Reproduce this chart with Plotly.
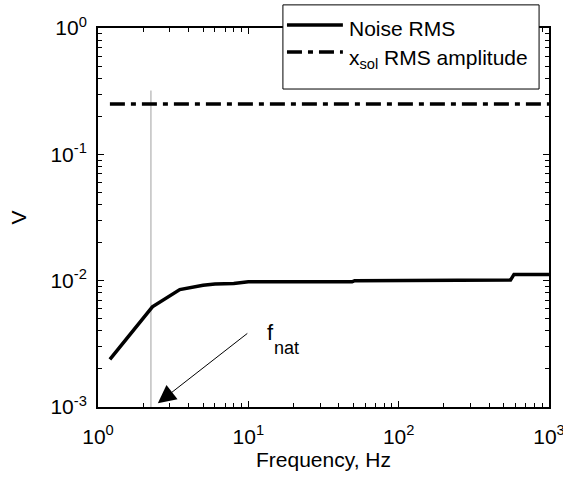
import numpy as np
import plotly.graph_objects as go

# Data
freq_noise = [1.2, 2.3, 3.5, 5.0, 6.0, 8.0, 10.0, 49.0, 51.0, 555.0, 585.0, 1000.0]
noise_rms = [0.00238, 0.0062, 0.0085, 0.0092, 0.0094, 0.0095, 0.0098, 0.0098, 0.0100, 0.0101, 0.0112, 0.0112]
freq_sol = [1.2, 1000.0]
xsol_rms = [0.25, 0.25]
f_nat = 2.25
fnat_line_v = [0.001, 0.32]

x_major = [1, 10, 100, 1000]
x_major_text = ["10<sup>0</sup>", "10<sup>1</sup>", "10<sup>2</sup>", "10<sup>3</sup>"]
y_major = [0.001, 0.01, 0.1, 1]
y_major_text = ["10<sup>-3</sup>", "10<sup>-2</sup>", "10<sup>-1</sup>", "10<sup>0</sup>"]
legend_labels = ["Noise RMS", "x<sub>sol</sub> RMS amplitude"]

def minors(lo, hi):
    out = []
    for e in range(lo, hi):
        for m in range(2, 10):
            out.append(m * 10 ** e)
    return out

FONT = "Liberation Sans, Arial, sans-serif"
DASHDOT = "15px,6px,5px,6px"

fig = go.Figure()
fig.add_trace(go.Scatter(x=[f_nat, f_nat], y=fnat_line_v, mode="lines",
                         line=dict(color="#a0a0a0", width=1), showlegend=False,
                         hoverinfo="skip"))
fig.add_trace(go.Scatter(x=freq_noise, y=noise_rms, mode="lines", name=legend_labels[0],
                         line=dict(color="black", width=3.5), showlegend=False))
fig.add_trace(go.Scatter(x=freq_sol, y=xsol_rms, mode="lines", name=legend_labels[1],
                         line=dict(color="black", width=3.5, dash=DASHDOT), showlegend=False))

axis_common = dict(type="log", showgrid=False, zeroline=False, showline=True,
                   linecolor="black", linewidth=2, mirror="ticks", ticks="inside",
                   ticklen=6, tickwidth=1, tickcolor="black", ticklabeloverflow="allow",
                   automargin=False,
                   tickfont=dict(family=FONT, size=21, color="black"))

fig.update_xaxes(range=[0, 3.0002], tickmode="array", tickvals=x_major, ticktext=x_major_text,
                 minor=dict(tickmode="array", tickvals=minors(0, 3), ticklen=4,
                            tickwidth=1, tickcolor="black", ticks="inside"),
                 ticklabelstandoff=10,
                 title=dict(text="Frequency, Hz", font=dict(family=FONT, size=21, color="black"),
                            standoff=4),
                 **axis_common)
fig.update_yaxes(range=[-3.0002, 0.0002], tickmode="array", tickvals=y_major, ticktext=y_major_text,
                 minor=dict(tickmode="array", tickvals=minors(-3, 0), ticklen=4,
                            tickwidth=1, tickcolor="black", ticks="inside"),
                 ticklabelstandoff=5,
                 title=dict(text="V", font=dict(family=FONT, size=21, color="black"),
                            standoff=18),
                 **axis_common)

# f_nat arrow and label
fig.add_annotation(x=np.log10(2.5), y=np.log10(0.00107), xref="x", yref="y",
                   ax=91, ay=-71, axref="pixel", ayref="pixel",
                   showarrow=True, arrowhead=2, arrowsize=3.6, arrowwidth=1,
                   arrowcolor="black", text="")
fig.add_annotation(x=1.11, y=-2.41, xref="x", yref="y", xanchor="left", yanchor="middle",
                   showarrow=False, text="f", font=dict(family=FONT, size=22, color="black"))
fig.add_annotation(x=1.155, y=-2.53, xref="x", yref="y", xanchor="left", yanchor="middle",
                   showarrow=False, text="nat", font=dict(family=FONT, size=18, color="black"))

# Legend (box, samples, labels)
fig.add_shape(type="rect", xref="paper", yref="paper", x0=0.410, x1=0.978, y0=0.839, y1=1.061,
              line=dict(color="black", width=1), fillcolor="white", layer="above")
fig.add_shape(type="line", xref="paper", yref="paper", x0=0.419, x1=0.543, y0=1.008, y1=1.008,
              line=dict(color="black", width=3.5), layer="above")
fig.add_shape(type="line", xref="paper", yref="paper", x0=0.419, x1=0.543, y0=0.937, y1=0.937,
              line=dict(color="black", width=3.5, dash=DASHDOT), layer="above")
fig.add_annotation(x=0.552, y=0.998, xref="paper", yref="paper", xanchor="left", yanchor="middle",
                   showarrow=False, text=legend_labels[0],
                   font=dict(family=FONT, size=21, color="black"))
fig.add_annotation(x=0.552, y=0.917, xref="paper", yref="paper", xanchor="left", yanchor="middle",
                   showarrow=False, text=legend_labels[1],
                   font=dict(family=FONT, size=21, color="black"))

fig.update_layout(
    width=563, height=482,
    margin=dict(l=98, r=14, t=28, b=75),
    paper_bgcolor="white", plot_bgcolor="white",
    showlegend=False,
)

fig.write_html("out.html")
